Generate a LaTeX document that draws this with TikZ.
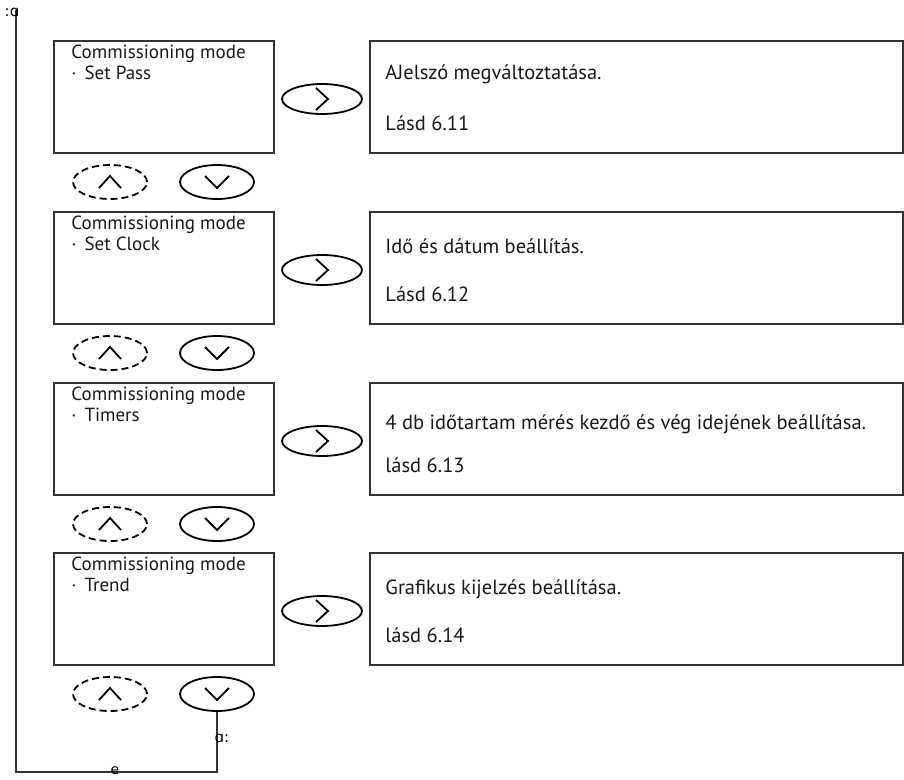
\documentclass[tikz,border=0pt]{standalone}
\usepackage{fontspec}
\setmainfont{PT Sans}
\newfontfamily\glyphfont{DejaVu Sans}
\usetikzlibrary{shapes.geometric}

\tikzset{
	lcdbox/.style={draw=black!80, line width=1.5pt, minimum width=220pt, minimum height=112pt, inner sep=0pt},
	infobox/.style={draw=black!80, line width=1.5pt, minimum width=533pt, minimum height=112pt, inner sep=0pt},
	lcdtext/.style={anchor=base west, inner sep=0pt, font=\fontsize{19}{21}\selectfont, text=black!90},
	infotext/.style={anchor=base west, inner sep=0pt, font=\fontsize{20.5}{22}\selectfont, text=black!90},
	keyshape/.style={draw, ellipse, line width=1.8pt, minimum width=74pt, minimum height=34pt, inner sep=0pt},
	gokey/.style={keyshape, minimum width=80pt, minimum height=30pt},
	upkey/.style={keyshape, dashed, dash pattern=on 7pt off 4pt},
	chev/.style={line width=1.8pt},
	odd/.style={inner sep=0pt, font=\glyphfont\fontsize{15}{15}\selectfont}
}

\begin{document}
\begin{tikzpicture}[x=1pt,y=-1pt]
				\useasboundingbox (0,0) rectangle (904,779);
				\pgfmathsetmacro\LX{164}
				\pgfmathsetmacro\RX{636.5}
				\pgfmathsetmacro\GX{322}
				\pgfmathsetmacro\UX{110}
				\pgfmathsetmacro\DX{217}

				% Set Pass
				\node[lcdbox] (lcdA) at (\LX,97) {};
				\node[lcdtext] (lcdAhead) at ([xshift=18pt,yshift=-18pt]lcdA.north west) {Commissioning mode};
				\node[lcdtext] (lcdAitem) at ([xshift=18pt,yshift=-39pt]lcdA.north west) {\textperiodcentered\hspace{8pt}Set Pass};
				\node[infobox] (infoA) at (\RX,97) {};
				\node[infotext] (infoAtext) at ([xshift=16pt,yshift=-39pt]infoA.north west) {AJelszó megváltoztatása.};
				\node[infotext] (infoAref) at ([xshift=16pt,yshift=-90pt]infoA.north west) {Lásd 6.11};
				\node[gokey] (goA) at (\GX,99) {};
				\draw[chev,shift={(goA.center)}] (-6,-11) -- (6,0) -- (-6,11);
				\node[upkey] (upA) at (\UX,182) {};
				\draw[chev,shift={(upA.center)}] (-11,6) -- (0,-6) -- (11,6);
				\node[keyshape] (dnA) at (\DX,182) {};
				\draw[chev,shift={(dnA.center)}] (-12,-6) -- (0,6) -- (12,-6);

				% Set Clock
				\node[lcdbox] (lcdB) at (\LX,268) {};
				\node[lcdtext] (lcdBhead) at ([xshift=18pt,yshift=-18pt]lcdB.north west) {Commissioning mode};
				\node[lcdtext] (lcdBitem) at ([xshift=18pt,yshift=-39pt]lcdB.north west) {\textperiodcentered\hspace{8pt}Set Clock};
				\node[infobox] (infoB) at (\RX,268) {};
				\node[infotext] (infoBtext) at ([xshift=16pt,yshift=-42pt]infoB.north west) {Idő és dátum beállítás.};
				\node[infotext] (infoBref) at ([xshift=16pt,yshift=-90pt]infoB.north west) {Lásd 6.12};
				\node[gokey] (goB) at (\GX,270) {};
				\draw[chev,shift={(goB.center)}] (-6,-11) -- (6,0) -- (-6,11);
				\node[upkey] (upB) at (\UX,353) {};
				\draw[chev,shift={(upB.center)}] (-11,6) -- (0,-6) -- (11,6);
				\node[keyshape] (dnB) at (\DX,353) {};
				\draw[chev,shift={(dnB.center)}] (-12,-6) -- (0,6) -- (12,-6);

				% Timers
				\node[lcdbox] (lcdC) at (\LX,439) {};
				\node[lcdtext] (lcdChead) at ([xshift=18pt,yshift=-18pt]lcdC.north west) {Commissioning mode};
				\node[lcdtext] (lcdCitem) at ([xshift=18pt,yshift=-39pt]lcdC.north west) {\textperiodcentered\hspace{8pt}Timers};
				\node[infobox] (infoC) at (\RX,439) {};
				\node[infotext] (infoCtext) at ([xshift=16pt,yshift=-47pt]infoC.north west) {4 db időtartam mérés kezdő és vég idejének beállítása.};
				\node[infotext] (infoCref) at ([xshift=16pt,yshift=-90pt]infoC.north west) {lásd 6.13};
				\node[gokey] (goC) at (\GX,441) {};
				\draw[chev,shift={(goC.center)}] (-6,-11) -- (6,0) -- (-6,11);
				\node[upkey] (upC) at (\UX,524) {};
				\draw[chev,shift={(upC.center)}] (-11,6) -- (0,-6) -- (11,6);
				\node[keyshape] (dnC) at (\DX,524) {};
				\draw[chev,shift={(dnC.center)}] (-12,-6) -- (0,6) -- (12,-6);

				% Trend
				\node[lcdbox] (lcdD) at (\LX,609) {};
				\node[lcdtext] (lcdDhead) at ([xshift=18pt,yshift=-18pt]lcdD.north west) {Commissioning mode};
				\node[lcdtext] (lcdDitem) at ([xshift=18pt,yshift=-39pt]lcdD.north west) {\textperiodcentered\hspace{8pt}Trend};
				\node[infobox] (infoD) at (\RX,609) {};
				\node[infotext] (infoDtext) at ([xshift=16pt,yshift=-42pt]infoD.north west) {Grafikus kijelzés beállítása.};
				\node[infotext] (infoDref) at ([xshift=16pt,yshift=-90pt]infoD.north west) {lásd 6.14};
				\node[gokey] (goD) at (\GX,611) {};
				\draw[chev,shift={(goD.center)}] (-6,-11) -- (6,0) -- (-6,11);
				\node[upkey] (upD) at (\UX,694) {};
				\draw[chev,shift={(upD.center)}] (-11,6) -- (0,-6) -- (11,6);
				\node[keyshape] (dnD) at (\DX,694) {};
				\draw[chev,shift={(dnD.center)}] (-12,-6) -- (0,6) -- (12,-6);

				% back to the top
				\coordinate (loopcorner) at (16,772);
				\coordinate (looptop) at (16,10);
				\draw[line width=1.5pt, black!80] (dnD.south) -- (dnD.south |- loopcorner) -- (loopcorner) -- (looptop);
				\node[odd] (markdown) at (222,738) {ɑ:};
				\node[odd, font=\glyphfont\fontsize{14}{14}\selectfont] (markleft) at (115,771) {e};
				\node[odd] (marktop) at (12,12) {:ɑ};
			\end{tikzpicture}
\end{document}
